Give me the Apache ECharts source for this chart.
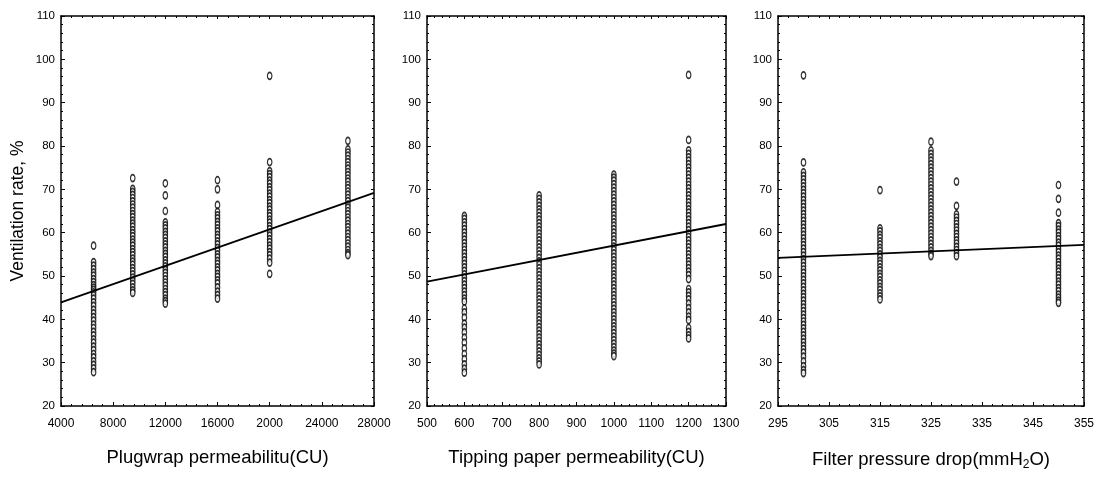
<!DOCTYPE html>
<html>
<head>
<meta charset="utf-8">
<script src="https://cdn.jsdelivr.net/npm/echarts@6/dist/echarts.min.js"></script>
<style>
  html, body { margin: 0; padding: 0; background: #fff; }
  #chart { width: 1097px; height: 477px; }
</style>
</head>
<body>
<div id="chart"></div>
<script>
  // panel 1: plugwrap permeability
  const plugwrapX = [6500, 9500, 12000, 16000, 20000, 26000];
  const plugwrapVent = [
    [57.0, 53.2, 52.4, 51.6, 50.8, 50.1, 49.3, 48.6, 47.9, 47.3, 46.8, 46.2, 45.5, 44.8, 43.9, 43.1, 42.2, 41.4, 40.5, 39.7, 38.8, 38.0, 37.1, 36.3, 35.4, 34.6, 33.7, 32.9, 32.0, 31.2, 30.3, 29.5, 28.7, 27.8],
    [72.6, 70.1, 69.4, 68.7, 68.0, 67.2, 66.5, 65.8, 65.0, 64.3, 63.6, 62.8, 62.1, 61.4, 60.6, 59.9, 59.2, 58.4, 57.7, 57.0, 56.2, 55.5, 54.8, 54.0, 53.3, 52.6, 51.8, 51.1, 50.4, 49.6, 48.9, 48.2, 47.4, 46.7, 46.1],
    [71.4, 68.6, 65.0, 62.4, 61.7, 61.0, 60.2, 59.5, 58.8, 58.0, 57.3, 56.6, 55.8, 55.1, 54.4, 53.6, 52.9, 52.2, 51.4, 50.7, 50.0, 49.2, 48.5, 47.8, 47.0, 46.3, 45.6, 44.8, 44.2, 43.6],
    [72.1, 70.0, 66.4, 64.8, 64.0, 63.3, 62.5, 61.8, 61.0, 60.3, 59.5, 58.8, 58.0, 57.3, 56.5, 55.8, 55.0, 54.3, 53.5, 52.8, 52.0, 51.3, 50.5, 49.8, 49.0, 48.3, 47.4, 46.4, 45.6, 44.8],
    [96.2, 76.3, 74.2, 73.5, 72.8, 72.0, 71.3, 70.5, 69.8, 69.0, 68.3, 67.5, 66.8, 66.0, 65.3, 64.5, 63.8, 63.0, 62.3, 61.5, 60.8, 60.0, 59.3, 58.5, 57.8, 57.0, 56.3, 55.5, 54.8, 54.0, 53.1, 50.5],
    [81.2, 79.2, 78.5, 77.8, 77.0, 76.3, 75.5, 74.8, 74.0, 73.3, 72.5, 71.8, 71.0, 70.3, 69.5, 68.8, 68.0, 67.3, 66.5, 65.8, 65.0, 64.3, 63.5, 62.8, 62.0, 61.3, 60.5, 59.8, 59.0, 58.3, 57.5, 56.8, 56.0, 55.3, 54.8]
  ];
  const plugwrapFit = [[4000, 43.9], [28000, 69.2]];
  const plugwrapTicks = ['4000', '8000', '12000', '16000', '2000', '24000', '28000'];

  // panel 2: tipping paper permeability
  const tippingX = [600, 800, 1000, 1200];
  const tippingVent = [
    [63.9, 63.2, 62.4, 61.6, 60.8, 60.0, 59.2, 58.4, 57.6, 56.8, 56.0, 55.2, 54.4, 53.6, 52.8, 52.0, 51.2, 50.4, 49.6, 48.8, 48.0, 47.2, 46.4, 45.6, 44.8, 44.1, 42.5, 41.6, 40.4, 39.0, 38.1, 37.0, 35.8, 34.6, 33.3, 32.0, 30.8, 29.6, 28.6, 27.7],
    [68.6, 67.8, 67.0, 66.2, 65.4, 64.6, 63.8, 63.0, 62.2, 61.4, 60.6, 59.8, 59.0, 58.2, 57.4, 56.6, 55.8, 55.0, 54.2, 53.4, 52.6, 51.8, 51.0, 50.2, 49.4, 48.6, 47.8, 47.0, 46.2, 45.4, 44.6, 43.8, 43.0, 42.2, 41.4, 40.6, 39.8, 39.0, 38.2, 37.4, 36.6, 35.8, 35.0, 34.2, 33.4, 32.6, 31.8, 31.0, 30.3, 29.6],
    [73.4, 72.7, 72.0, 71.2, 70.4, 69.6, 68.8, 68.0, 67.2, 66.4, 65.6, 64.8, 64.0, 63.2, 62.4, 61.6, 60.8, 60.0, 59.2, 58.4, 57.6, 56.8, 56.0, 55.2, 54.4, 53.6, 52.8, 52.0, 51.2, 50.4, 49.6, 48.8, 48.0, 47.2, 46.4, 45.6, 44.8, 44.0, 43.2, 42.4, 41.6, 40.8, 40.0, 39.2, 38.4, 37.6, 36.8, 36.0, 35.2, 34.4, 33.6, 32.8, 32.1, 31.5],
    [96.4, 81.4, 79.0, 78.2, 77.4, 76.6, 75.8, 75.0, 74.2, 73.4, 72.6, 71.8, 71.0, 70.2, 69.4, 68.6, 67.8, 67.0, 66.2, 65.4, 64.6, 63.8, 63.0, 62.2, 61.4, 60.6, 59.8, 59.0, 58.2, 57.4, 56.6, 55.8, 55.0, 54.2, 53.4, 52.6, 51.8, 51.0, 50.2, 49.3, 47.0, 46.2, 45.4, 44.6, 43.6, 42.6, 41.6, 40.6, 39.8, 38.0, 37.1, 36.3, 35.6]
  ];
  const tippingFit = [[500, 48.7], [1300, 62.0]];
  const tippingTicks = ['500', '600', '700', '800', '900', '1000', '1100', '1200', '1300'];

  // panel 3: filter pressure drop
  const filterX = [300, 315, 325, 330, 350];
  const filterVent = [
    [96.3, 76.2, 73.9, 73.1, 72.3, 71.5, 70.7, 69.9, 69.1, 68.3, 67.5, 66.7, 65.9, 65.1, 64.3, 63.5, 62.7, 61.9, 61.1, 60.3, 59.5, 58.7, 57.9, 57.1, 56.3, 55.5, 54.7, 53.9, 53.1, 52.3, 51.5, 50.7, 49.9, 49.1, 48.3, 47.5, 46.7, 45.9, 45.1, 44.3, 43.5, 42.7, 41.9, 41.1, 40.3, 39.5, 38.7, 37.9, 37.1, 36.3, 35.5, 34.7, 33.9, 33.1, 32.3, 31.4, 30.3, 29.2, 28.3, 27.6],
    [69.8, 61.0, 60.3, 59.5, 58.8, 58.0, 57.3, 56.5, 55.8, 55.0, 54.3, 53.5, 52.8, 52.0, 51.3, 50.5, 49.8, 49.0, 48.3, 47.5, 46.8, 46.0, 45.3, 44.6],
    [81.0, 79.0, 78.2, 77.4, 76.6, 75.8, 75.0, 74.2, 73.4, 72.6, 71.8, 71.0, 70.2, 69.4, 68.6, 67.8, 67.0, 66.2, 65.4, 64.6, 63.8, 63.0, 62.2, 61.4, 60.6, 59.8, 59.0, 58.2, 57.4, 56.6, 55.8, 55.1, 54.6],
    [71.8, 66.2, 64.2, 63.5, 62.7, 62.0, 61.2, 60.5, 59.7, 59.0, 58.2, 57.5, 56.7, 56.0, 55.3, 54.6],
    [71.0, 67.8, 64.6, 62.2, 61.5, 60.7, 60.0, 59.2, 58.5, 57.7, 57.0, 56.2, 55.5, 54.7, 54.0, 53.2, 52.5, 51.7, 51.0, 50.2, 49.5, 48.7, 48.0, 47.2, 46.5, 45.7, 45.0, 44.3, 43.8]
  ];
  const filterFit = [[295, 54.2], [355, 57.2]];
  const filterTicks = ['295', '305', '315', '325', '335', '345', '355'];

  const ventTicks = [20, 110, 10];

  const chart = echarts.init(document.getElementById('chart'));
  const font = '"Liberation Sans", Arial, sans-serif';
  const ink = '#000';
  const ellipse = 'path://M3,0 A3,5 0 1,1 3,10 A3,5 0 1,1 3,0 Z';

  const panels = [
    { left: 61, width: 313, min: 4000, max: 28000, step: 4000, ticks: plugwrapTicks,
      xs: plugwrapX, cols: plugwrapVent, fit: plugwrapFit, name: 'Plugwrap permeabilitu(CU)' },
    { left: 427, width: 299, min: 500, max: 1300, step: 100, ticks: tippingTicks,
      xs: tippingX, cols: tippingVent, fit: tippingFit, name: 'Tipping paper permeability(CU)' },
    { left: 778, width: 311, min: 295, max: 355, step: 10, ticks: filterTicks,
      xs: filterX, cols: filterVent, fit: filterFit, name: 'Filter pressure drop(mmH{sub|2}O)' },
  ];

  const grid = [];
  const xAxis = [];
  const yAxis = [];
  const series = [];

  panels.forEach((p, i) => {
    grid.push({ left: p.left, width: p.width, top: 16, height: 390 });

    const lineStyle = { color: ink, width: 1.5 };
    xAxis.push({
      type: 'value', gridIndex: i, position: 'bottom',
      min: p.min, max: p.max, interval: p.step,
      name: p.name, nameLocation: 'middle', nameGap: 42,
      nameTextStyle: {
        fontFamily: font, fontSize: 18.5, color: ink,
        rich: { sub: { fontFamily: font, fontSize: 12, color: ink, verticalAlign: 'bottom', padding: [11, 0, 0, 0] } },
      },
      axisLine: { show: true, lineStyle },
      axisTick: { show: true, inside: true, length: 4, lineStyle: { color: ink } },
      minorTick: { show: true, splitNumber: 5, length: 2, lineStyle: { color: ink } },
      axisLabel: {
        fontFamily: font, fontSize: 12, color: ink, margin: 12,
        formatter: (v) => p.ticks[Math.round((v - p.min) / p.step)] || '',
      },
      splitLine: { show: false },
    });
    xAxis.push({
      type: 'value', gridIndex: i, position: 'top',
      min: p.min, max: p.max, interval: p.step,
      axisLine: { show: true, lineStyle },
      axisTick: { show: true, inside: true, length: 3, lineStyle: { color: ink } },
      minorTick: { show: true, splitNumber: 5, length: 2, lineStyle: { color: ink } },
      axisLabel: { show: false },
      splitLine: { show: false },
    });
    yAxis.push({
      type: 'value', gridIndex: i, position: 'left',
      min: ventTicks[0], max: ventTicks[1], interval: ventTicks[2],
      name: i === 0 ? 'Ventilation rate, %' : '',
      nameLocation: 'middle', nameGap: 34, nameRotate: 90,
      nameTextStyle: { fontFamily: font, fontSize: 17.5, color: ink },
      axisLine: { show: true, lineStyle },
      axisTick: { show: true, inside: true, length: 4, lineStyle: { color: ink } },
      minorTick: { show: true, splitNumber: 5, length: 2, lineStyle: { color: ink } },
      axisLabel: { fontFamily: font, fontSize: 11.5, color: ink, margin: 6 },
      splitLine: { show: false },
    });
    yAxis.push({
      type: 'value', gridIndex: i, position: 'right',
      min: ventTicks[0], max: ventTicks[1], interval: ventTicks[2],
      axisLine: { show: true, lineStyle },
      axisTick: { show: true, inside: true, length: 3, lineStyle: { color: ink } },
      minorTick: { show: true, splitNumber: 5, length: 2, lineStyle: { color: ink } },
      axisLabel: { show: false },
      splitLine: { show: false },
    });

    const points = [];
    p.xs.forEach((x, k) => {
      p.cols[k].forEach((v) => points.push([x, v]));
    });

    series.push({
      type: 'scatter', xAxisIndex: i * 2, yAxisIndex: i * 2,
      symbol: ellipse, symbolSize: [4.5, 7], silent: true,
      itemStyle: { color: '#fff', borderColor: ink, borderWidth: 1.4 },
      data: points,
    });
    series.push({
      type: 'line', xAxisIndex: i * 2, yAxisIndex: i * 2,
      symbol: 'none', silent: true, z: 3,
      lineStyle: { color: ink, width: 1.8 },
      data: p.fit,
    });
  });

  chart.setOption({
    animation: false,
    backgroundColor: '#fff',
    grid,
    xAxis,
    yAxis,
    series,
  });
</script>
</body>
</html>
